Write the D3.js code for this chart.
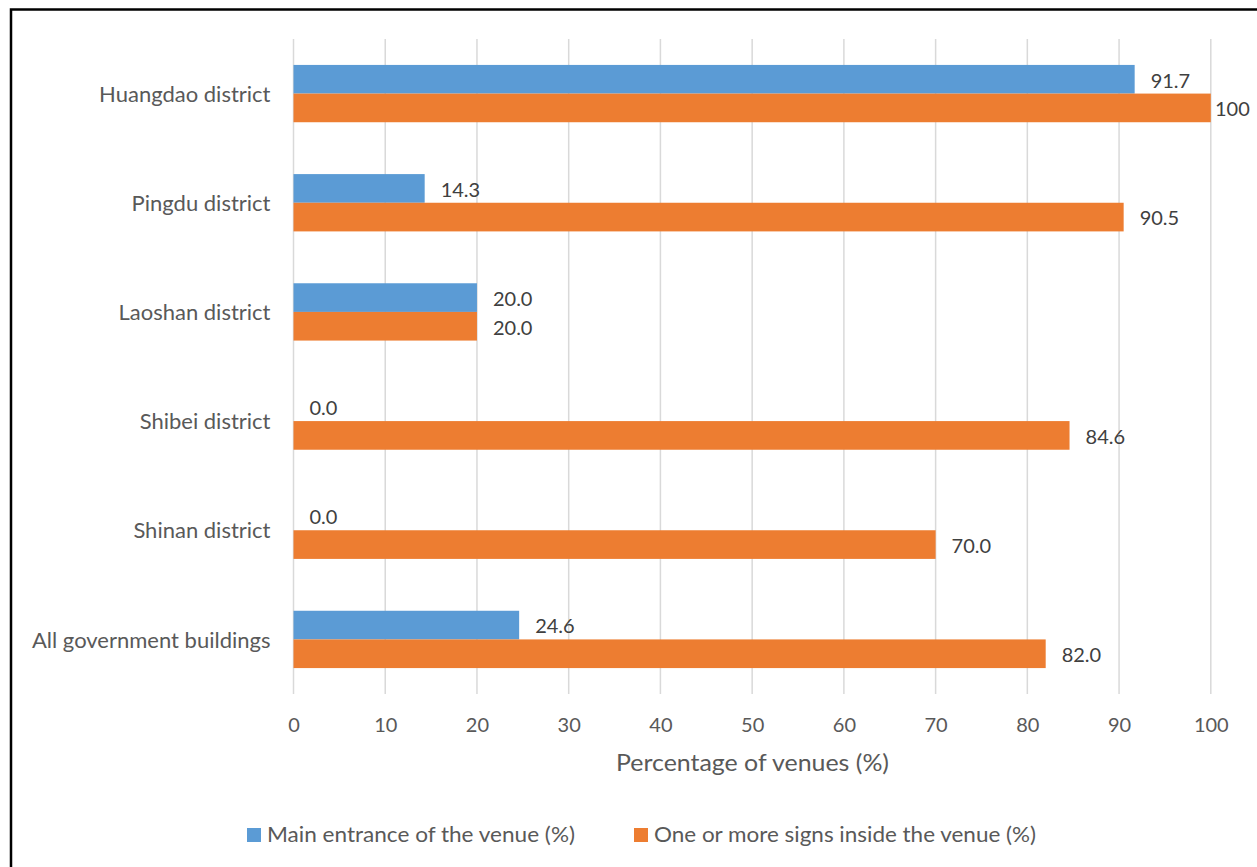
<!DOCTYPE html>
<html><head><meta charset="utf-8">
<script src="https://cdn.jsdelivr.net/npm/d3@7"></script>
<style>body{margin:0;background:#fff}svg{display:block}</style>
</head><body><svg id="c" width="1257" height="867"></svg>
<script>
const categories = ["Huangdao district","Pingdu district","Laoshan district","Shibei district","Shinan district","All government buildings"];
const seriesNames = ["Main entrance of the venue (%)","One or more signs inside the venue (%)"];
const mainEntrance = [91.7,14.3,20.0,0.0,0.0,24.6];
const signsInside = [100,90.5,20.0,84.6,70.0,82.0];
const xTicks = [0,10,20,30,40,50,60,70,80,90,100];
const colors = ["#5b9bd5","#ed7d31"];
const font = "Lato, 'Open Sans', sans-serif";

const svg = d3.select("#c");
svg.append("rect").attr("x",0).attr("y",0).attr("width",1257).attr("height",867).attr("fill","#fff");
// border
svg.append("path").attr("d","M11,867 V9.5 H1257").attr("fill","none").attr("stroke","#000").attr("stroke-width",2.5);

const x = d3.scaleLinear().domain([0,100]).range([293.5,1210.8]);
const y = d3.scaleBand().domain(categories).range([39,694]).paddingInner(0.475).paddingOuter(0.2375);
const ySub = d3.scaleBand().domain([0,1]).range([0,y.bandwidth()]);

// gridlines
svg.append("g").selectAll("line").data(xTicks).join("line")
  .attr("x1",d=>x(d)).attr("x2",d=>x(d)).attr("y1",39).attr("y2",694)
  .attr("stroke","#d9d9d9").attr("stroke-width",1.5);

// x axis
const xa = svg.append("g").attr("transform","translate(0,694)")
  .call(d3.axisBottom(x).tickValues(xTicks).tickSize(0).tickPadding(24).tickFormat(d3.format("d")));
xa.select(".domain").remove();
xa.selectAll("text").attr("font-family",font).attr("font-size",20).attr("fill","#595959");

// y axis labels
const ya = svg.append("g").attr("transform","translate(293.5,0)")
  .call(d3.axisLeft(y).tickSize(0).tickPadding(23));
ya.select(".domain").remove();
ya.selectAll("text").attr("font-family",font).attr("font-size",22).attr("fill","#595959").attr("dy","0.37em");

const data = [];
categories.forEach((c,i)=>{
  data.push({c, s:0, v:mainEntrance[i]});
  data.push({c, s:1, v:signsInside[i]});
});

svg.append("g").selectAll("rect").data(data).join("rect")
  .attr("x",x(0)).attr("y",d=>y(d.c)+ySub(d.s))
  .attr("width",d=>x(d.v)-x(0)).attr("height",ySub.bandwidth())
  .attr("fill",d=>colors[d.s]);

const fmt = v => v===100 ? "100" : d3.format(".1f")(v);
svg.append("g").selectAll("text").data(data).join("text")
  .attr("x",d=>Math.min(x(d.v)+16, 1215))
  .attr("y",d=>y(d.c)+ySub(d.s)+ySub.bandwidth()/2)
  .attr("dy","0.42em")
  .attr("font-family",font).attr("font-size",20).attr("fill","#404040")
  .text(d=>fmt(d.v));

// axis title
svg.append("text").attr("x",752.5).attr("y",771).attr("text-anchor","middle")
  .attr("font-family",font).attr("font-size",23).attr("fill","#595959")
  .attr("textLength",273).attr("lengthAdjust","spacingAndGlyphs")
  .text("Percentage of venues (%)");

// legend
const legX = [247, 634];
const legW = [308, 382];
const lg = svg.append("g");
seriesNames.forEach((n,i)=>{
  lg.append("rect").attr("x",legX[i]).attr("y",828).attr("width",14).attr("height",14).attr("fill",colors[i]);
  lg.append("text").attr("x",legX[i]+20).attr("y",842)
    .attr("font-family",font).attr("font-size",21).attr("fill","#595959")
    .attr("textLength",legW[i]).attr("lengthAdjust","spacingAndGlyphs").text(n);
});
</script></body></html>
